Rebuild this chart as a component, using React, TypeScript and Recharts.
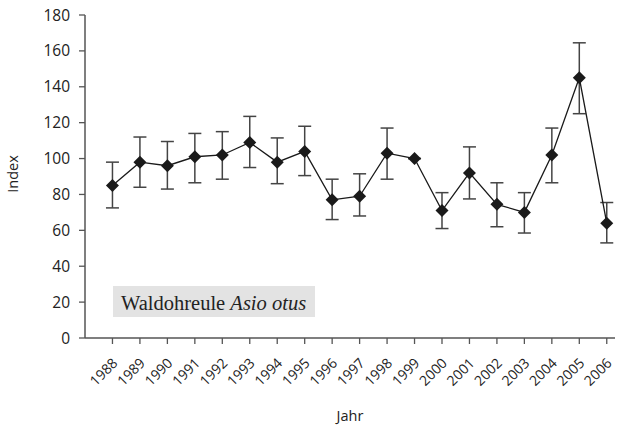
import { LineChart, Line, XAxis, YAxis, ErrorBar } from "recharts";

const years = [1988, 1989, 1990, 1991, 1992, 1993, 1994, 1995, 1996, 1997, 1998, 1999, 2000, 2001, 2002, 2003, 2004, 2005, 2006];
const index = [85, 98, 96, 101, 102, 109, 98, 104, 77, 79, 103, 100, 71, 92, 74.5, 70, 102, 145, 64];
const upper = [98, 112, 109.5, 114, 115, 123.5, 111.5, 118, 88.5, 91.5, 117, 100, 81, 106.5, 86.5, 81, 117, 164.5, 75.5];
const lower = [72.5, 84, 83, 86.5, 88.5, 95, 86, 90.5, 66, 68, 88.5, 100, 61, 77.5, 62, 58.5, 86.5, 125, 53];
const yTicks = [0, 20, 40, 60, 80, 100, 120, 140, 160, 180];

const data = years.map((year, i) => ({
  year,
  index: index[i],
  err: [index[i] - lower[i], upper[i] - index[i]],
}));

const font = "'Open Sans', sans-serif";

const Diamond = (props: any) => {
  const { cx, cy } = props;
  if (cx == null || cy == null) return null;
  const r = 6.5;
  return (
    <polygon
      points={`${cx},${cy - r} ${cx + r},${cy} ${cx},${cy + r} ${cx - r},${cy}`}
      fill="#1a1a1a"
    />
  );
};

const YearTick = (props: any) => {
  const { x, y, payload } = props;
  const ax = x + 6;
  const ay = y + 18;
  return (
    <text
      x={ax}
      y={ay}
      transform={`rotate(-45, ${ax}, ${ay})`}
      textAnchor="end"
      fontSize={14}
      fontFamily={font}
      fill="#222"
    >
      {payload.value}
    </text>
  );
};

const IndexTick = (props: any) => {
  const { x, y, payload } = props;
  return (
    <text x={x - 7} y={y} dy={5.5} textAnchor="end" fontSize={15.5} fontFamily={font} fill="#222">
      {payload.value}
    </text>
  );
};

export default function App() {
  return (
    <div style={{ position: "fixed", left: 0, top: 0, background: "#fff" }}>
      <LineChart width={618} height={426} data={data} margin={{ top: 15, right: 3, bottom: 0, left: 0 }}>
        <XAxis
          dataKey="year"
          type="number"
          domain={[1987, 2006.3]}
          ticks={years}
          interval={0}
          allowDataOverflow
          tick={<YearTick />}
          tickLine={{ stroke: "#555", strokeWidth: 1.3 }}
          axisLine={{ stroke: "#555", strokeWidth: 1.5 }}
          tickSize={6}
          tickMargin={2}
          height={88}
          label={{ value: "Jahr", position: "insideBottom", offset: 5, fontSize: 14.5, fontFamily: font, fill: "#222" }}
        />
        <YAxis
          domain={[0, 180]}
          ticks={yTicks}
          interval={0}
          width={85}
          tick={<IndexTick />}
          tickLine={{ stroke: "#555", strokeWidth: 1.3 }}
          axisLine={{ stroke: "#555", strokeWidth: 1.5 }}
          tickSize={6}
          tickMargin={2}
          label={{
            content: () => (
              <text x={18} y={174} transform="rotate(-90, 18, 174)" textAnchor="middle" fontSize={14.5} fontFamily={font} fill="#222">
                Index
              </text>
            ),
          }}
        />
        <Line
          dataKey="index"
          stroke="#1a1a1a"
          strokeWidth={1.3}
          dot={<Diamond />}
          activeDot={false}
          isAnimationActive={false}
        >
          <ErrorBar dataKey="err" direction="y" width={6.5} stroke="#444" strokeWidth={1.5} />
        </Line>
        <g>
          <rect x={113} y={286} width={202} height={31} fill="#e3e3e3" />
          <text x={121} y={310} fontSize={20.5} fontFamily="'Liberation Serif', serif" fill="#222">
            Waldohreule <tspan fontStyle="italic">Asio otus</tspan>
          </text>
        </g>
      </LineChart>
    </div>
  );
}
